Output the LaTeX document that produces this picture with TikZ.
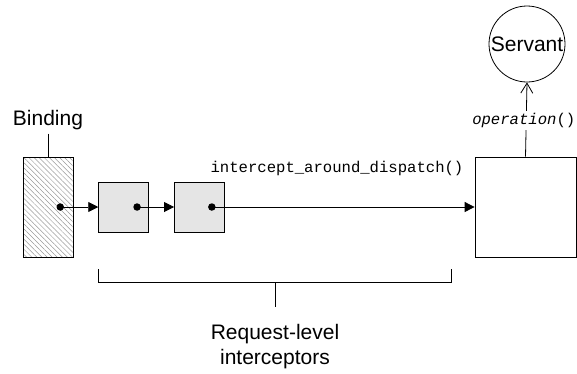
\documentclass[tikz,border=0pt]{standalone}
\usepackage{fontspec}
\setmainfont{Liberation Sans}
\setmonofont{Liberation Mono}
\usetikzlibrary{arrows.meta,positioning,patterns,patterns.meta,calc}

\begin{document}
\begin{tikzpicture}[x=1pt,y=-1pt,
    hatched/.style={
      draw,
      line width=0.8pt,
      pattern={Lines[angle=-45,distance=3.6pt,line width=0.5pt]},
      pattern color=black!40,
      minimum width=50pt,
      minimum height=100pt
    },
    stage/.style={
      draw,
      line width=0.8pt,
      fill=black!10,
      inner sep=0pt,
      minimum size=50pt
    },
    target/.style={
      draw,
      line width=0.8pt,
      inner sep=0pt,
      minimum width=101pt,
      minimum height=100pt
    },
    dot/.style={circle, fill, inner sep=0pt, minimum size=7.5pt},
    sans/.style={font=\fontsize{21}{25}\selectfont},
    mono/.style={font=\ttfamily\fontsize{15.6}{19}\selectfont},
    >={Triangle[length=10pt,width=10pt]},
    node distance=25pt,
    every path/.style={line width=0.8pt}
  ]
  \useasboundingbox (0,0) rectangle (577,373);
  \node[hatched] (Bind) at (48,207) {};
  \node[stage,right=of Bind] (S1) {};
  \node[stage,right=of S1] (S2) {};
  \node[target] (T) at (525.5,207) {};
  \node[circle,draw,inner sep=0pt,minimum size=76pt,sans] (Srv) at (527,44) {Servant};
  \node[sans] (BindL) at (48,120) {Binding};
  \draw (BindL.south) -- (Bind.north);
  % dispatch chain
  \node[dot] (d0) at ($(Bind.east)+(-13,0)$) {};
  \node[dot] (d1) at ($(S1.east)+(-12,0)$) {};
  \node[dot] (d2) at ($(S2.east)+(-13,0)$) {};
  \draw[->] (d0.center) -- (S1.west);
  \draw[->] (d1.center) -- (S2.west);
  \draw[->] (d2.center) -- (T.west);
  \node[mono] (icpt) at (337,168) {intercept\_around\_dispatch()};
  \draw[-{Straight Barb[length=10pt,width=12pt]}] (T.north) -- (Srv.south)
    node[pos=0.49,fill=white,inner xsep=0pt,inner ysep=2pt,xshift=-2.5pt,mono] (op) {\textit{operation}()};
  % bracket
  \coordinate (brL) at ($(S1.west)+(0,62)$);
  \coordinate (brR) at (451,269);
  \coordinate (brM) at (275,282);
  \draw (brL) -- ++(0,13) -| (brR);
  \draw (brM) -- ++(0,25);
  \node[sans,align=center] (grp) at (275,347) {Request-level\\interceptors};
\end{tikzpicture}
\end{document}
